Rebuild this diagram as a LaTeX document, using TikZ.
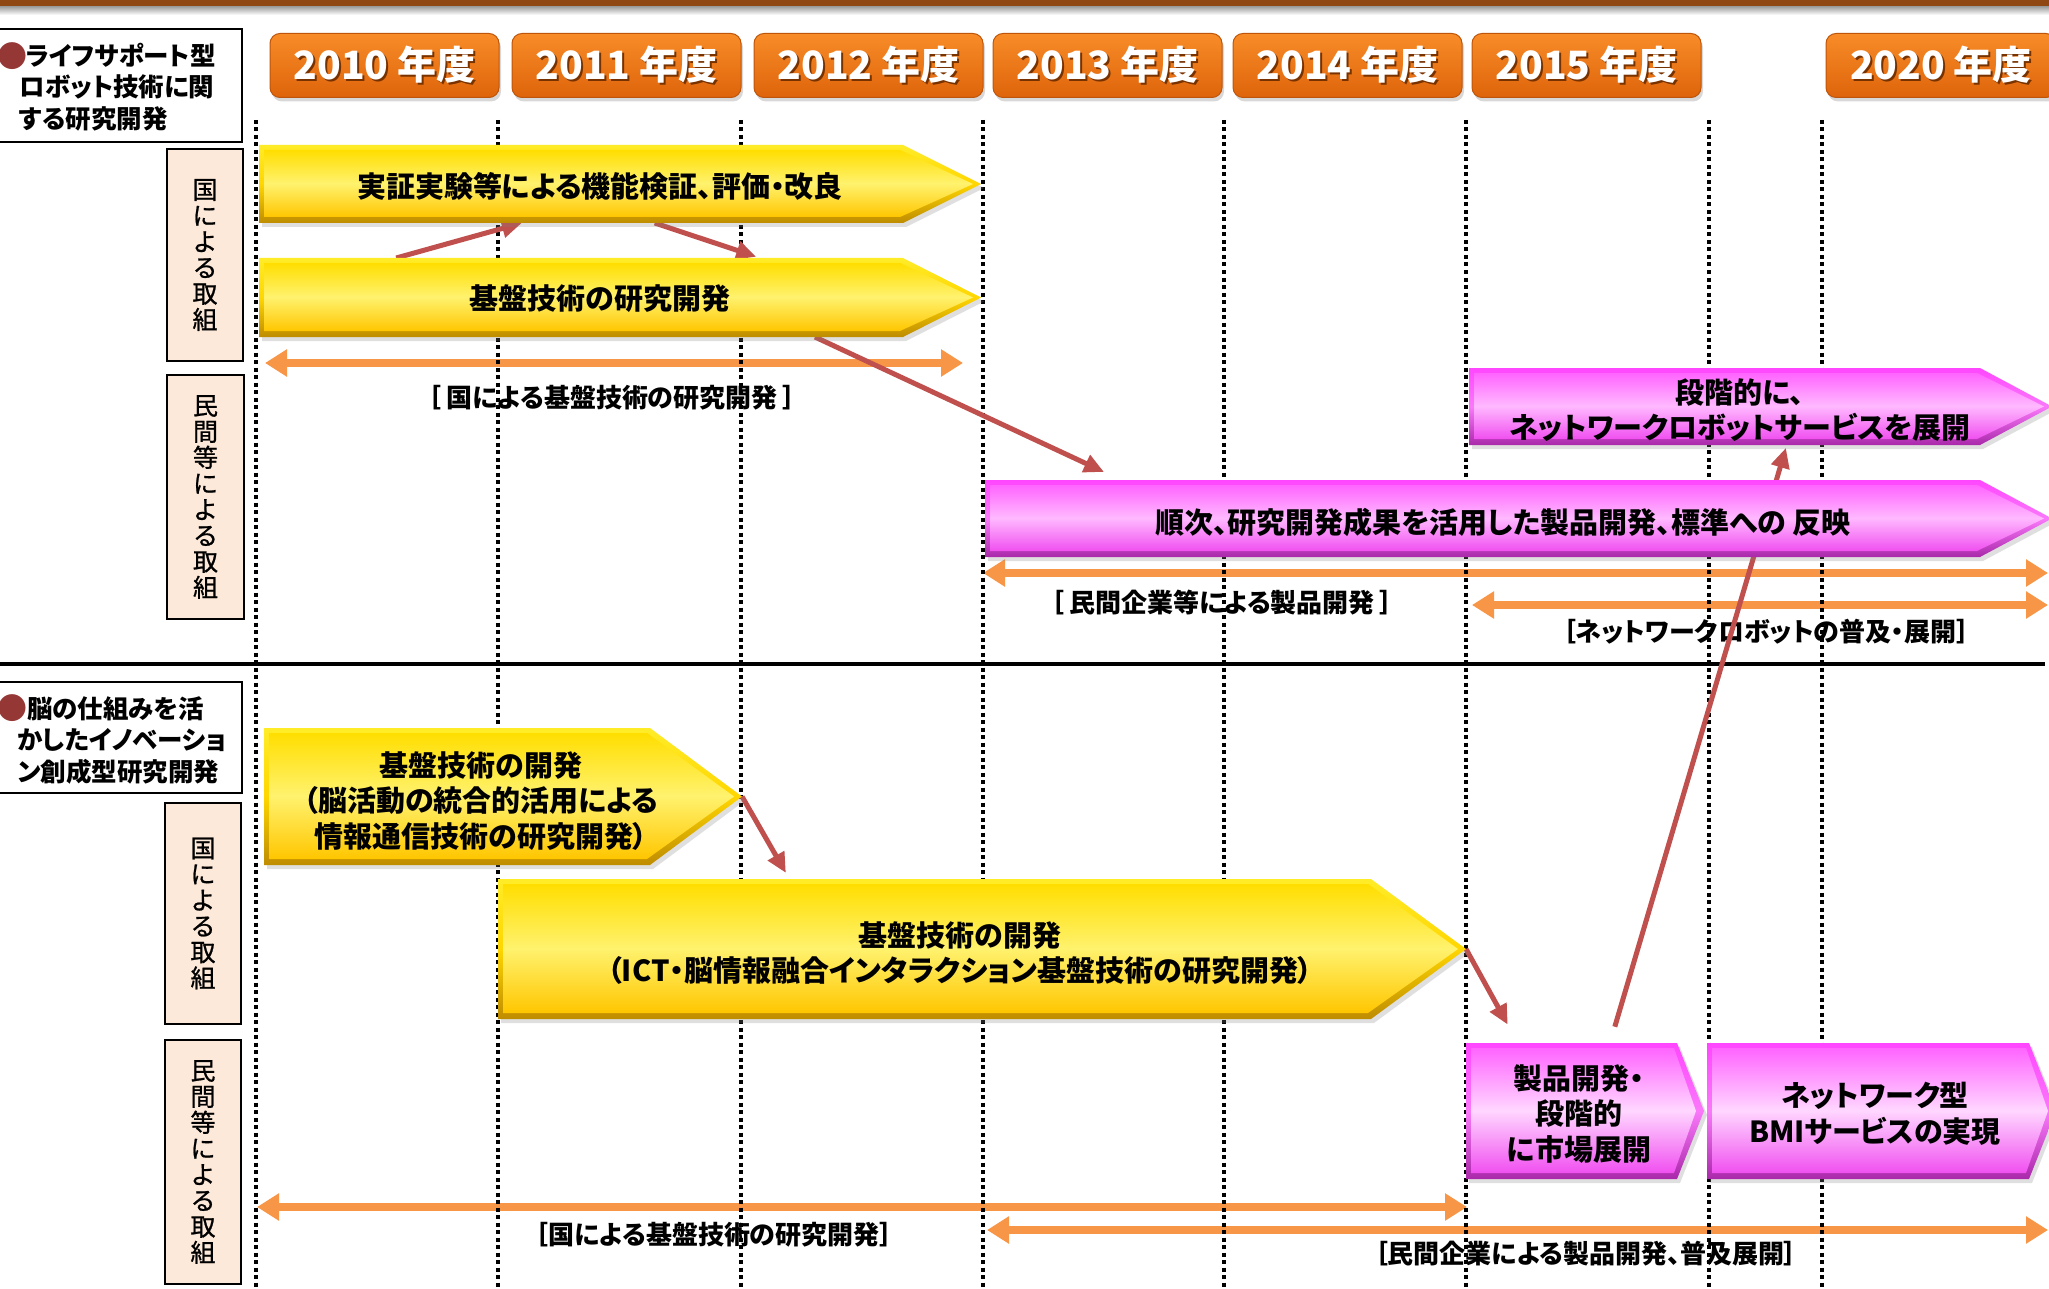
\documentclass[tikz,border=0pt]{standalone}
\usepackage{fontspec}
\setmainfont{Noto Sans CJK JP}[RawFeature=+palt]
\newfontfamily\vertfam{Noto Sans CJK JP}[FakeBold=0.9]
\usetikzlibrary{arrows.meta,calc,shadows}

\definecolor{brownband}{RGB}{143,72,20}
\definecolor{yrtop}{RGB}{248,140,40}
\definecolor{yrbot}{RGB}{222,100,10}
\definecolor{yrborder}{RGB}{190,85,10}
\definecolor{yrshadow}{RGB}{120,50,0}
% yellow bevel colours
\definecolor{yotop}{RGB}{255,236,40}
\definecolor{yomid}{RGB}{255,214,0}
\definecolor{yobot}{RGB}{190,140,0}
\definecolor{yitop}{RGB}{255,222,0}
\definecolor{yimid}{RGB}{255,242,110}
\definecolor{yibot}{RGB}{255,198,0}
% magenta bevel colours
\definecolor{motop}{RGB}{255,70,255}
\definecolor{momid}{RGB}{250,120,250}
\definecolor{mobot}{RGB}{170,40,170}
\definecolor{mitop}{RGB}{255,100,255}
\definecolor{mimid}{RGB}{255,185,255}
\definecolor{mimidtwo}{RGB}{255,215,255}
\definecolor{mibot}{RGB}{240,80,240}
\definecolor{orangeline}{RGB}{247,150,70}
\definecolor{redline}{RGB}{192,80,77}
\definecolor{peach}{RGB}{253,233,217}
\definecolor{bulletred}{RGB}{149,55,53}

\newcommand\FYear{\fontsize{39}{42}\selectfont\bfseries}
\newcommand\FBar{\fontsize{29}{35.5}\selectfont\bfseries}
\newcommand\FLabel{\fontsize{26}{30}\selectfont\bfseries}
\newcommand\FHead{\fontsize{25.5}{31.5}\selectfont\bfseries}
\newcommand\FVert{\vertfam\fontsize{25}{26}\selectfont}
\newcommand\yrtext[1]{\makebox[0pt][l]{\hspace*{2pt}\raisebox{-2pt}{\textcolor{yrshadow}{#1}}}#1}
% #1 node, #2 head length, #3 outer style, #4 inner style
\newcommand\drawbar[4]{%
  \path[#3] (#1.south west) -- (#1.north west) -- ([xshift=-#2]#1.north east) -- (#1.east) -- ([xshift=-#2]#1.south east) -- cycle;
  \path[#4] ([xshift=5pt,yshift=6pt]#1.south west) -- ([xshift=5pt,yshift=-5pt]#1.north west)
     -- ([xshift=-#2-3pt,yshift=-5pt]#1.north east) -- ([xshift=-8pt]#1.east)
     -- ([xshift=-#2-3pt,yshift=6pt]#1.south east) -- cycle;}

\tikzset{
  yearbox/.style={rounded corners=10pt, draw=yrborder, line width=1pt,
    top color=yrtop, bottom color=yrbot, minimum width=229pt, minimum height=64pt,
    inner sep=0pt, text=white, font=\FYear,
    drop shadow={shadow xshift=2pt, shadow yshift=-4pt, opacity=0.3}},
  barbox/.style={inner sep=0pt, outer sep=0pt},
  ybarout/.style={top color=yotop, bottom color=yobot, middle color=yomid,
    drop shadow={shadow xshift=3pt, shadow yshift=-4pt, opacity=0.25}},
  ybarin/.style={top color=yitop, bottom color=yibot, middle color=yimid},
  mbarout/.style={top color=motop, bottom color=mobot, middle color=momid,
    drop shadow={shadow xshift=3pt, shadow yshift=-4pt, opacity=0.25}},
  mbarin/.style={top color=mitop, bottom color=mibot, middle color=mimid},
  mbarintwo/.style={top color=mitop, bottom color=mibot, middle color=mimidtwo},
  bartext/.style={font=\FBar, align=center, inner sep=0pt},
  bracketlabel/.style={font=\FLabel, inner sep=0pt},
  gridline/.style={line width=3.5pt, dash pattern=on 4pt off 3.5pt, black},
  orangearrow/.style={draw=orangeline, line width=8pt,
    {Triangle[length=22pt,width=26pt]}-{Triangle[length=22pt,width=26pt]}},
  redarrow/.style={draw=redline, line width=5pt, -{Triangle[length=20pt,width=18pt]}},
  peachbox/.style={draw=black, line width=2.2pt, fill=peach, font=\FVert, align=center, inner sep=0pt},
  headerbox/.style={draw=black, line width=2.2pt, fill=white, inner sep=0pt},
  headtext/.style={font=\FHead, align=left, inner sep=0pt},
  bulletmark/.style={font=\fontsize{30}{30}\selectfont, text=bulletred, inner sep=0pt},
}

\begin{document}
\begin{tikzpicture}[x=1pt,y=-1pt]
\useasboundingbox (0,0) rectangle (2049,1289);
\fill[white] (0,0) rectangle (2049,1289);

% top band
\shade[top color=black!40, bottom color=white] (0,6) rectangle (2049,15);
\fill[brownband] (0,0) rectangle (2049,6.5);

% year boxes
\node[yearbox] (y2010) at (384.5,65.5) {\yrtext{2010 年度}};
\node[yearbox] (y2011) at (626.5,65.5) {\yrtext{2011 年度}};
\node[yearbox] (y2012) at (868.5,65.5) {\yrtext{2012 年度}};
\node[yearbox] (y2013) at (1107.5,65.5) {\yrtext{2013 年度}};
\node[yearbox] (y2014) at (1347.5,65.5) {\yrtext{2014 年度}};
\node[yearbox] (y2015) at (1586.5,65.5) {\yrtext{2015 年度}};
\node[yearbox, minimum width=230pt] (y2020) at (1941,65.5) {\yrtext{2020 年度}};

% header boxes
\node[headerbox, minimum width=244pt, minimum height=113pt] (h1box) at (120,85.5) {};
\node[bulletmark] (b1) at (13,56) {●};
\node[headtext, anchor=west] (h1) at (19,87) {\hspace*{7pt}ライフサポート型\\ロボット技術に関\\する研究開発};
\node[headerbox, minimum width=244pt, minimum height=111pt] (h2box) at (120,737.5) {};
\node[bulletmark] (b2) at (13,708) {●};
\node[headtext, anchor=west] (h2) at (17,740) {\hspace*{10pt}脳の仕組みを活\\かしたイノベーショ\\ン創成型研究開発};

% peach boxes
\node[peachbox, minimum width=76pt, minimum height=212pt] (k1) at (205,255) {国\\に\\よ\\る\\取\\組};
\node[peachbox, minimum width=77pt, minimum height=244pt] (k2) at (205.5,497) {民\\間\\等\\に\\よ\\る\\取\\組};
\node[peachbox, minimum width=76pt, minimum height=221pt] (k3) at (203,913.5) {国\\に\\よ\\る\\取\\組};
\node[peachbox, minimum width=76pt, minimum height=244pt] (k4) at (203,1162) {民\\間\\等\\に\\よ\\る\\取\\組};

% bar bodies (invisible reference nodes)
\node[barbox, minimum width=722pt, minimum height=78pt] (ya) at (620,184) {};
\node[barbox, minimum width=722pt, minimum height=79pt] (yb) at (620,297.5) {};
\node[barbox, minimum width=583pt, minimum height=77pt] (ma) at (1760.5,406.5) {};
\node[barbox, minimum width=1067pt, minimum height=77pt] (mb) at (1518.5,518.5) {};
\node[barbox, minimum width=478pt, minimum height=137pt] (yc) at (503,796.5) {};
\node[barbox, minimum width=968pt, minimum height=140pt] (yd) at (982,949) {};
\node[barbox, minimum width=238pt, minimum height=136pt] (mc) at (1585,1111) {};
\node[barbox, minimum width=349pt, minimum height=136pt] (md) at (1881.5,1111) {};

% orange span arrows
\coordinate (o1l) at (265,363);  \coordinate (o1r) at (963,363);
\coordinate (o2l) at (983,573);  \coordinate (o2r) at (2048,573);
\coordinate (o3l) at (1472,605); \coordinate (o3r) at (2048,605);
\coordinate (o4l) at (257,1207); \coordinate (o4r) at (1467,1207);
\coordinate (o5l) at (987,1230); \coordinate (o5r) at (2048,1230);
\draw[orangearrow] (o1l) -- (o1r);
\draw[orangearrow] (o2l) -- (o2r);
\draw[orangearrow] (o3l) -- (o3r);
\draw[orangearrow] (o4l) -- (o4r);
\draw[orangearrow] (o5l) -- (o5r);

% bracket labels
\node[bracketlabel] (l1) at (612,398) {［\hspace{5pt}国による基盤技術の研究開発\hspace{5pt}］};
\node[bracketlabel] (l2) at (1222,603) {［\hspace{5pt}民間企業等による製品開発\hspace{5pt}］};
\node[bracketlabel] (l3) at (1766,632) {［ネットワークロボットの普及・展開］};
\node[bracketlabel] (l4) at (714,1235) {［国による基盤技術の研究開発］};
\node[bracketlabel] (l5) at (1586,1254) {［民間企業による製品開発、普及展開］};

% grid lines
\foreach \gx in {256,498,741,983,1224,1466,1709,1822}
  \draw[gridline] (\gx,120) -- (\gx,1289);

% divider
\draw[line width=3.5pt] (0,664) -- (2045,664);

% red connectors
\draw[redarrow] ($(yb.north west)!0.19!(yb.north east)$) -- ($(ya.south west)!0.364!(ya.south east)$);
\draw[redarrow, shorten >=4pt] ($(ya.south west)!0.548!(ya.south east)$) -- ($(yb.north west)!0.694!(yb.north east)$);
\draw[redarrow, shorten >=19pt] ($(yb.south west)!0.77!(yb.south east)$) -- ($(mb.north west)!0.1277!(mb.north east)$);
\draw[redarrow, shorten <=17pt, shorten >=3pt] ($(mc.north west)!0.605!(mc.north east)$) -- ($(ma.south west)!0.545!(ma.south east)$);
\draw[redarrow, shorten >=7pt] (yc.east) -- ($(yd.north west)!0.301!(yd.north east)$);
\draw[redarrow, shorten >=21pt] (yd.east) -- ($(mc.north west)!0.218!(mc.north east)$);

% bars
\drawbar{ya}{78pt}{ybarout}{ybarin}
\drawbar{yb}{78pt}{ybarout}{ybarin}
\drawbar{ma}{72pt}{mbarout}{mbarin}
\drawbar{mb}{72pt}{mbarout}{mbarin}
\drawbar{yc}{92pt}{ybarout}{ybarin}
\drawbar{yd}{95pt}{ybarout}{ybarin}
\drawbar{mc}{27pt}{mbarout}{mbarintwo}
\drawbar{md}{27pt}{mbarout}{mbarintwo}

% bar texts
\node[bartext] (ta) at (600,186) {実証実験等による機能検証、評価・改良};
\node[bartext] (tb) at (600,299) {基盤技術の研究開発};
\node[bartext] (tma) at (1740,410) {段階的に、\\ネットワークロボットサービスを展開};
\node[bartext] (tmb) at (1503,522) {順次、研究開発成果を活用した製品開発、標準への 反映};
\node[bartext] (tc) at (481,801) {基盤技術の開発\\（脳活動の統合的活用による\\情報通信技術の研究開発）};
\node[bartext] (td) at (960,953) {基盤技術の開発\\（ICT・脳情報融合インタラクション基盤技術の研究開発）};
\node[bartext] (tmc) at (1579,1114) {製品開発・\\段階的\\に市場展開};
\node[bartext] (tmd) at (1875,1114) {ネットワーク型\\BMIサービスの実現};
\end{tikzpicture}
\end{document}
